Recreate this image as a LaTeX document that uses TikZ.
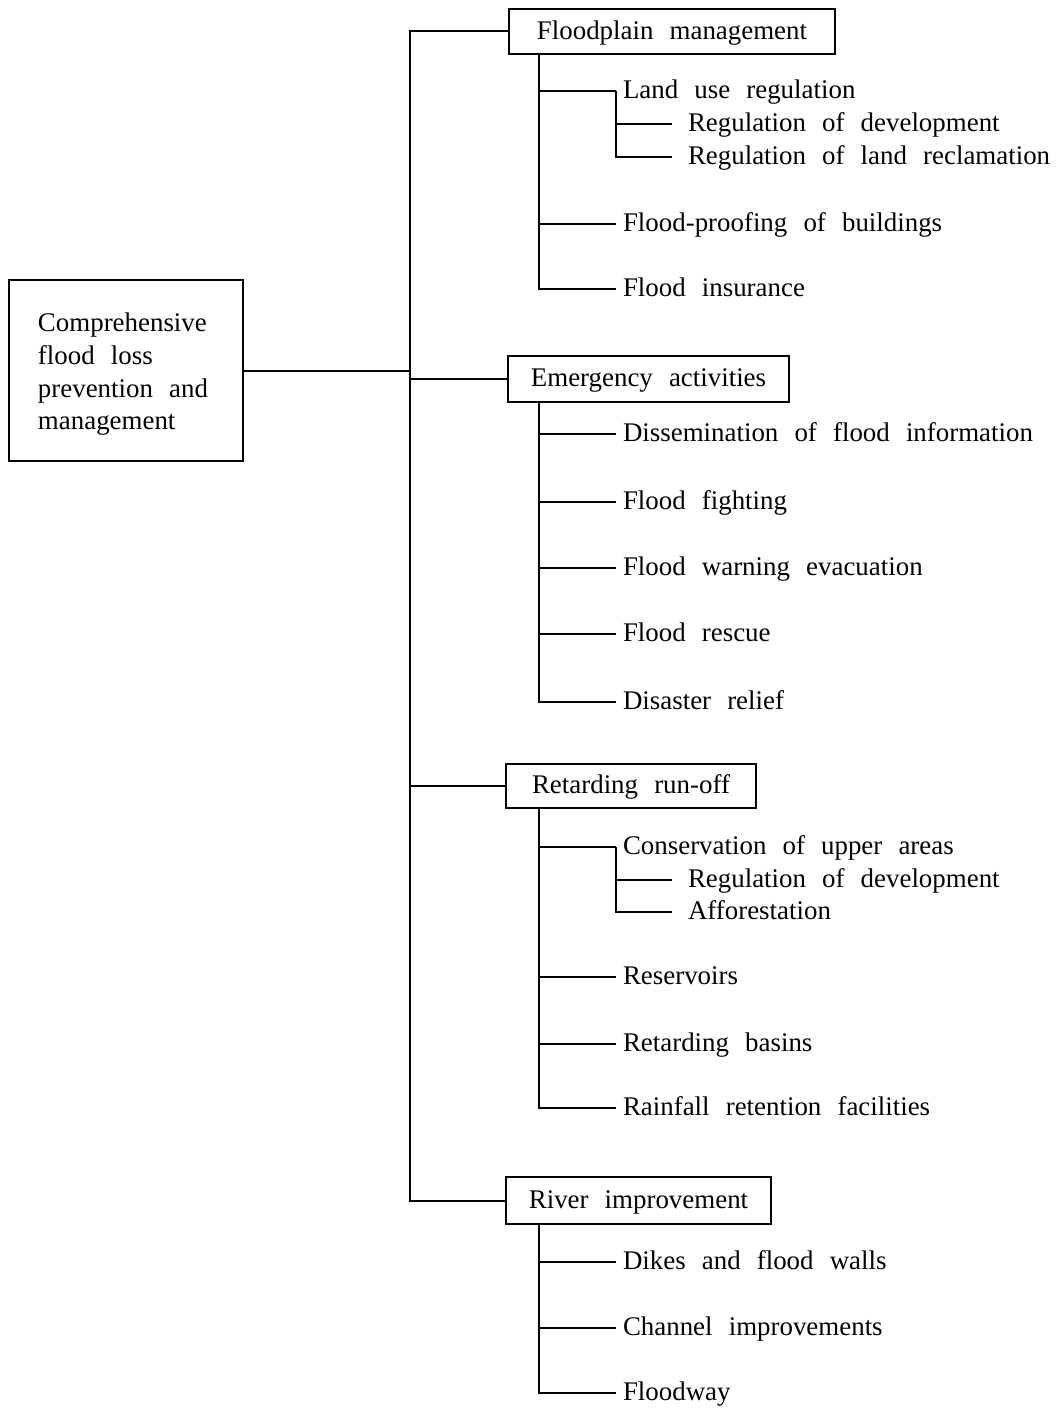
\documentclass[tikz,border=0pt]{standalone}
\usepackage{fontspec}
\setmainfont{Liberation Serif}[WordSpace=2.4]
\begin{document}
\begin{tikzpicture}[x=1bp,y=-1bp, line width=2bp,
  every node/.style={font=\fontsize{27}{33}\selectfont},
  box/.style={draw, line width=2bp, inner sep=0pt},
  item/.style={anchor=west, inner xsep=6bp, inner ysep=0pt, text height=20bp, text depth=4.5bp},
  subitem/.style={anchor=west, inner xsep=15bp, inner ysep=0pt, text height=20bp, text depth=4.5bp}]
\useasboundingbox (0,0) rectangle (1059,1409);
% main boxes
\node[box, minimum width=234bp, minimum height=181bp, text width=176bp, align=left] (root) at (126,370.5)
  {\rule{0pt}{26bp}Comprehensive\\flood\hspace{0.6em}loss\\prevention\hspace{0.6em}and\\management};
\node[box, minimum width=326bp, minimum height=45bp, text height=20bp, text depth=4.5bp] (fp) at (672,31.5) {Floodplain management};
\node[box, minimum width=281bp, minimum height=46bp, text height=20bp, text depth=4.5bp] (ea) at (648.5,379) {Emergency activities};
\node[box, minimum width=250bp, minimum height=44bp, text height=20bp, text depth=4.5bp] (rr) at (631,786) {Retarding run-off};
\node[box, minimum width=265bp, minimum height=47bp, text height=20bp, text depth=4.5bp] (ri) at (638.5,1200.5) {River improvement};
% floodplain items
\node[item] (lu) at (616,91) {Land use regulation};
\node[subitem] (rd1) at (672,124) {Regulation of development};
\node[subitem] (rl) at (672,157) {Regulation of land reclamation};
\node[item] (fpb) at (616,224) {Flood-proofing of buildings};
\node[item] (fi) at (616,289) {Flood insurance};
% emergency items
\node[item] (dfi) at (616,434) {Dissemination of flood information};
\node[item] (ff) at (616,502) {Flood fighting};
\node[item] (fwe) at (616,568) {Flood warning evacuation};
\node[item] (fr) at (616,634) {Flood rescue};
\node[item] (dr) at (616,702) {Disaster relief};
% retarding items
\node[item] (cua) at (616,847) {Conservation of upper areas};
\node[subitem] (rd2) at (672,880) {Regulation of development};
\node[subitem] (af) at (672,912) {Afforestation};
\node[item] (res) at (616,977) {Reservoirs};
\node[item] (rb) at (616,1044) {Retarding basins};
\node[item] (rrf) at (616,1108) {Rainfall retention facilities};
% river items
\node[item] (dfw) at (616,1262) {Dikes and flood walls};
\node[item] (ci) at (616,1328) {Channel improvements};
\node[item] (fw) at (616,1393) {Floodway};
% trunk
\coordinate (T) at (410,0);
\coordinate (S) at (539,0);
\draw (fp.west) -| (T |- ri.west) -- (ri.west);
\draw (root.east) -- (root.east -| T);
\draw (ea.west) -- (ea.west -| T);
\draw (rr.west) -- (rr.west -| T);
% floodplain branch
\draw (fp.south -| S) |- (fi.west);
\draw (S |- lu.west) -- (lu.west);
\draw (S |- fpb.west) -- (fpb.west);
\draw (lu.west) |- (rl.west);
\draw (lu.west |- rd1.west) -- (rd1.west);
% emergency branch
\draw (ea.south -| S) |- (dr.west);
\draw (S |- dfi.west) -- (dfi.west);
\draw (S |- ff.west) -- (ff.west);
\draw (S |- fwe.west) -- (fwe.west);
\draw (S |- fr.west) -- (fr.west);
% retarding branch
\draw (rr.south -| S) |- (rrf.west);
\draw (S |- cua.west) -- (cua.west);
\draw (cua.west) |- (af.west);
\draw (cua.west |- rd2.west) -- (rd2.west);
\draw (S |- res.west) -- (res.west);
\draw (S |- rb.west) -- (rb.west);
% river branch
\draw (ri.south -| S) |- (fw.west);
\draw (S |- dfw.west) -- (dfw.west);
\draw (S |- ci.west) -- (ci.west);
\end{tikzpicture}
\end{document}
